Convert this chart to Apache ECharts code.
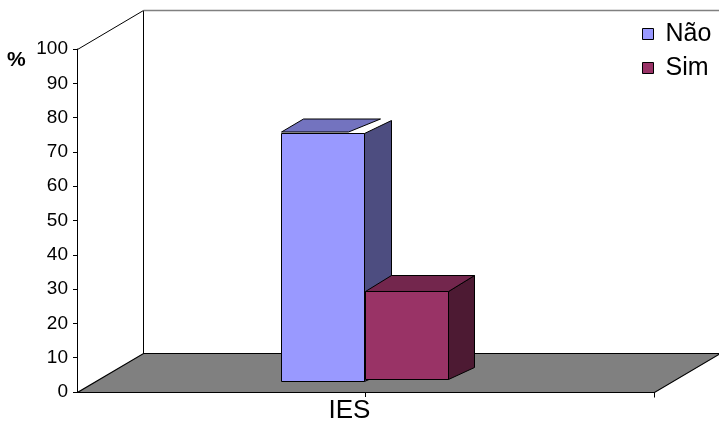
<!DOCTYPE html>
<html>
<head>
<meta charset="utf-8">
<script src="https://cdn.jsdelivr.net/npm/echarts@6/dist/echarts.min.js"></script>
<style>
  html, body { margin: 0; padding: 0; background: #ffffff; }
  #chart { width: 719px; height: 422px; }
</style>
</head>
<body>
<div id="chart"></div>
<script>
// Chart data
const categories = ['IES'];
const seriesNames = ['Não', 'Sim'];
const naoValues = [72.3];
const simValues = [25.7];
const yMin = 0;
const yMax = 100;
const yInterval = 10;

const FONT = 'Liberation Sans, Arial, sans-serif';

// Look of each 3D column: face colours and placement inside the category band
const barStyles = [
  { front: '#9999FF', side: '#4D4D80', top: '#7373BF', offset: -84.5, width: 83, lift: 11,
    dx: 27, dyTop: 13, dyBottom: 12, topGap: 1.5, topInset: 16, topBack: 5 },
  { front: '#993366', side: '#4D1A33', top: '#73264D', offset: -0.5, width: 83, lift: 13,
    dx: 26, dyTop: 16, dyBottom: 12, topGap: 0, topInset: 0, topBack: 0 }
];

// Depth of the floor and back wall
const DEPTH_X = 66;
const DEPTH_Y = 39;

function frameRenderer(params, api) {
  const cs = params.coordSys;
  const L = cs.x + 0.5;
  const R = cs.x + cs.width + 0.5;
  const T = cs.y + 0.5;
  const B = cs.y + cs.height + 0.5;
  const line = { stroke: '#000', lineWidth: 1 };
  return {
    type: 'group',
    children: [
      { type: 'polygon',
        shape: { points: [[L, B], [R, B], [R + DEPTH_X, B - DEPTH_Y], [L + DEPTH_X, B - DEPTH_Y]] },
        style: { fill: '#808080', stroke: '#000', lineWidth: 1.2 } },
      { type: 'line', shape: { x1: L + DEPTH_X, y1: B - DEPTH_Y, x2: L + DEPTH_X, y2: T - DEPTH_Y }, style: line },
      { type: 'line', shape: { x1: L, y1: T, x2: L + DEPTH_X, y2: T - DEPTH_Y }, style: line },
      { type: 'line', shape: { x1: L + DEPTH_X, y1: T - DEPTH_Y, x2: R + DEPTH_X + 40, y2: T - DEPTH_Y },
        style: { stroke: '#808080', lineWidth: 1.5 } },
      { type: 'line', shape: { x1: R, y1: B, x2: R, y2: B + 5 }, style: line }
    ]
  };
}

function barRenderer(s) {
  return function (params, api) {
    const cat = api.value(0);
    const val = api.value(1);
    const topPt = api.coord([cat, val]);
    const basePt = api.coord([cat, yMin]);
    const x1 = Math.round(topPt[0] + s.offset) + 0.5;
    const x2 = x1 + s.width;
    const yT = Math.round(topPt[1] - s.lift) + 0.5;
    const yB = Math.round(basePt[1] - s.lift) + 0.5;
    const edge = { stroke: '#000', lineWidth: 1 };
    const tf = yT - s.topGap;
    const tb = yT - s.dyTop - s.topGap;
    return {
      type: 'group',
      children: [
        { type: 'polygon',
          shape: { points: [[x2, yT], [x2 + s.dx, yT - s.dyTop], [x2 + s.dx, yB - s.dyBottom], [x2, yB]] },
          style: Object.assign({ fill: s.side }, edge) },
        { type: 'polygon',
          shape: { points: [[x1, tf], [x2 - s.topInset, tf],
                            [x2 + s.dx - s.topInset + s.topBack, tb],
                            [x1 + s.dx - s.topBack, tb]] },
          style: Object.assign({ fill: s.top }, edge) },
        { type: 'rect',
          shape: { x: x1, y: yT, width: s.width, height: yB - yT },
          style: Object.assign({ fill: s.front }, edge) }
      ]
    };
  };
}

const valueLists = [naoValues, simValues];

const barSeries = seriesNames.map(function (name, i) {
  return {
    name: name,
    type: 'custom',
    z: 3 + i,
    renderItem: barRenderer(barStyles[i]),
    itemStyle: { color: barStyles[i].front },
    encode: { x: 0, y: 1 },
    data: categories.map(function (c, k) { return [k, valueLists[i][k]]; })
  };
});

const chart = echarts.init(document.getElementById('chart'), null, { renderer: 'canvas' });
chart.setOption({
  animation: false,
  backgroundColor: '#ffffff',
  textStyle: { fontFamily: FONT },
  grid: { left: 77, right: 65, top: 49, bottom: 30, containLabel: false, outerBoundsMode: 'none' },
  legend: {
    data: seriesNames,
    orient: 'vertical',
    left: 637,
    top: 15,
    padding: 5,
    icon: 'rect',
    itemWidth: 11,
    itemHeight: 11,
    itemGap: 6,
    itemStyle: { borderColor: '#000', borderWidth: 1 },
    textStyle: { fontSize: 25, color: '#000', lineHeight: 28, padding: [0, 0, 0, 7], fontFamily: FONT }
  },
  graphic: [
    { type: 'text', left: 7, top: 50,
      style: { text: '%', font: 'bold 21px ' + FONT, fill: '#000' } }
  ],
  xAxis: {
    type: 'category',
    data: categories,
    boundaryGap: true,
    axisLine: { show: true, lineStyle: { color: '#000', width: 1 } },
    axisTick: { show: true, alignWithLabel: true, length: 5, lineStyle: { color: '#000' } },
    axisLabel: { fontSize: 26, color: '#000', margin: 6, padding: [0, 32, 0, 0], fontFamily: FONT },
    splitLine: { show: false }
  },
  yAxis: {
    type: 'value',
    min: yMin,
    max: yMax,
    interval: yInterval,
    axisLine: { show: true, lineStyle: { color: '#000', width: 1 } },
    axisTick: { show: true, length: 4, lineStyle: { color: '#000' } },
    axisLabel: { fontSize: 19, color: '#000', margin: 9, fontFamily: FONT },
    splitLine: { show: false }
  },
  series: [
    {
      name: 'frame',
      type: 'custom',
      z: 1,
      silent: true,
      renderItem: frameRenderer,
      encode: { x: 0, y: 1 },
      data: [[0, yMin]]
    }
  ].concat(barSeries)
});
</script>
</body>
</html>
